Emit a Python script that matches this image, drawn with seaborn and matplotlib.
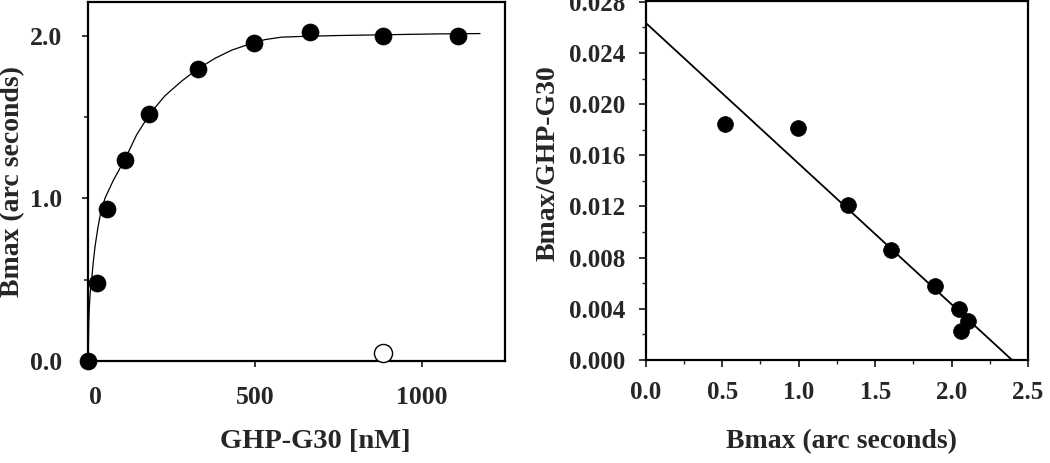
import matplotlib
matplotlib.use("Agg")
import matplotlib.pyplot as plt
import matplotlib.transforms as mtransforms
from matplotlib.ticker import MultipleLocator, FixedLocator
import seaborn as sns
import pandas as pd

# ---- Left panel: saturation binding data ----
conc_nM = [0, 25, 56, 109, 182, 329, 498, 666, 883, 1110]
bmax_arcsec = [0.0, 0.48, 0.934, 1.237, 1.516, 1.793, 1.953, 2.022, 1.998, 1.998]
open_conc_nM = [884]
open_bmax = [0.051]
# fitted curve
curve_x = [0, 0.5, 1.5, 3, 6, 10, 15, 20, 28, 37, 50, 75, 110, 145, 185, 230,
           280, 325, 380, 430, 480, 530, 580, 650, 750, 900, 1050, 1175]
curve_y = [0, 0.12, 0.24, 0.33, 0.43, 0.50, 0.61, 0.70, 0.81, 0.91, 1.00, 1.11,
           1.24, 1.39, 1.52, 1.63, 1.72, 1.79, 1.86, 1.91, 1.945, 1.975, 1.99,
           1.995, 2.0, 2.005, 2.01, 2.012]
left_xticks = [0, 500, 1000]
left_xticklabels = ["0", "500", "1000"]
left_yticks = [0.0, 1.0, 2.0]
left_yticklabels = ["0.0", "1.0", "2.0"]

# ---- Right panel: Scatchard plot ----
sc_bmax = [0.521, 0.995, 1.322, 1.605, 1.893, 2.046, 2.11, 2.062]
sc_ratio = [0.01846, 0.01812, 0.0121, 0.0086, 0.00577, 0.0040, 0.00308, 0.00224]
fit_x = [0.0, 2.395]
fit_y = [0.02635, 0.0]
right_xticks = [0.0, 0.5, 1.0, 1.5, 2.0, 2.5]
right_xticklabels = ["0.0", "0.5", "1.0", "1.5", "2.0", "2.5"]
right_yticks = [0.000, 0.004, 0.008, 0.012, 0.016, 0.020, 0.024, 0.028]
right_yticklabels = ["0.000", "0.004", "0.008", "0.012", "0.016", "0.020", "0.024", "0.028"]

sns.set_style("ticks")
plt.rcParams["font.family"] = ["Liberation Serif", "DejaVu Serif"]
plt.rcParams["font.weight"] = "bold"

fig = plt.figure(figsize=(10.5, 4.63), dpi=100)
fig.patch.set_facecolor("white")

ax1 = fig.add_axes([0.0841, 0.2203, 0.3969, 0.7754])
ax2 = fig.add_axes([0.6150, 0.2225, 0.3641, 0.7764])

df_pts = pd.DataFrame({"x": conc_nM, "y": bmax_arcsec})
df_open = pd.DataFrame({"x": open_conc_nM, "y": open_bmax})
df_curve = pd.DataFrame({"x": curve_x, "y": curve_y})

sns.lineplot(data=df_curve, x="x", y="y", ax=ax1, color="black", lw=0.9,
             sort=False, estimator=None)
sns.scatterplot(data=df_pts, x="x", y="y", ax=ax1, color="black", s=150,
                edgecolor="black", linewidth=0.5, zorder=5, clip_on=False)
sns.scatterplot(data=df_open, x="x", y="y", ax=ax1, facecolor="white", s=170,
                edgecolor="black", linewidth=1.0, zorder=5, clip_on=False)

ax1.set_xlim(0, 1250)
ax1.set_ylim(0, 2.206)
ax1.set_xticks(left_xticks)
ax1.set_xticklabels(left_xticklabels)
ax1.set_yticks(left_yticks)
ax1.set_yticklabels(left_yticklabels)
ax1.yaxis.set_minor_locator(FixedLocator([0.5, 1.5]))
ax1.tick_params(axis="both", which="major", direction="out", length=4,
                width=1.3, labelsize=18.5)
ax1.tick_params(axis="y", which="major", pad=15)
ax1.tick_params(axis="x", which="major", pad=14)
ax1.tick_params(axis="y", which="minor", direction="out", length=3, width=1.2)
# shift "0" label slightly right as in the original
lbl0 = ax1.get_xticklabels()[0]
lbl0.set_transform(lbl0.get_transform() +
                   mtransforms.ScaledTranslation(7 / 100, 0, fig.dpi_scale_trans))
ax1.set_xlabel("GHP-G30 [nM]", fontsize=20.5, fontweight="bold", va="center")
ax1.set_ylabel("Bmax (arc seconds)", fontsize=20, fontweight="bold", va="center")
ax1.xaxis.set_label_coords(0.544, -0.2256)
ax1.yaxis.set_label_coords(-0.182, 0.4986)

df_sc = pd.DataFrame({"x": sc_bmax, "y": sc_ratio})
df_fit = pd.DataFrame({"x": fit_x, "y": fit_y})
sns.lineplot(data=df_fit, x="x", y="y", ax=ax2, color="black", lw=1.3,
             sort=False, estimator=None)
sns.scatterplot(data=df_sc, x="x", y="y", ax=ax2, color="black", s=130,
                edgecolor="black", linewidth=0.5, zorder=5)

ax2.set_xlim(0, 2.5)
ax2.set_ylim(0, 0.0281)
ax2.set_xticks(right_xticks)
ax2.set_xticklabels(right_xticklabels)
ax2.set_yticks(right_yticks)
ax2.set_yticklabels(right_yticklabels)
ax2.xaxis.set_minor_locator(MultipleLocator(0.25))
ax2.yaxis.set_minor_locator(MultipleLocator(0.002))
ax2.tick_params(axis="both", which="major", direction="out", length=5,
                width=1.3, labelsize=18, pad=10)
ax2.tick_params(axis="both", which="minor", direction="out", length=3, width=1.0)
ax2.set_xlabel("Bmax (arc seconds)", fontsize=20, fontweight="bold", va="center")
ax2.set_ylabel("Bmax/GHP-G30", fontsize=20, fontweight="bold", va="center")
ax2.xaxis.set_label_coords(0.513, -0.228)
ax2.yaxis.set_label_coords(-0.2555, 0.547)

for ax in (ax1, ax2):
    for sp in ax.spines.values():
        sp.set_visible(True)
        sp.set_linewidth(1.6)
        sp.set_color("black")
    ax.set_facecolor("white")

fig.savefig("out.png", dpi=100, facecolor="white")
